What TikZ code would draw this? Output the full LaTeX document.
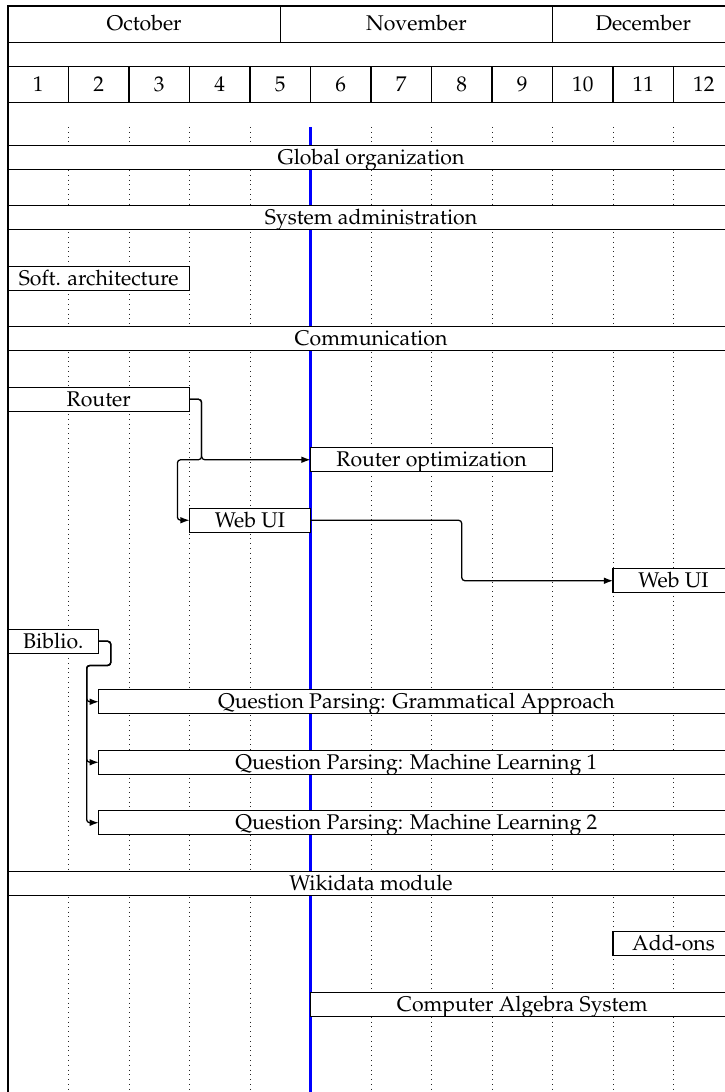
\documentclass[tikz,border=0pt]{standalone}
\usepackage[T1]{fontenc}
\usepackage{mathpazo}
\usetikzlibrary{arrows.meta}
\begin{document}
\begin{tikzpicture}[x=1cm,y=1cm,
  font=\fontsize{10}{12}\selectfont,
  frame/.style={line width=0.5pt, draw=black},
  hdr/.style={draw=black, line width=0.5pt, minimum height=0.6cm, inner sep=0pt, outer sep=0pt, anchor=north west, text height=7.6pt, text depth=1.6pt},
  task/.style={draw=black, fill=white, line width=0.5pt, minimum height=0.4cm, inner sep=0pt, outer sep=0pt, anchor=west, text height=8pt, text depth=1.4pt},
  conn/.style={line width=0.6pt, rounded corners=1.5pt, -{Latex[length=1.5mm,width=1.1mm]}},
  grid/.style={dash pattern=on 0.45pt off 1.8pt, line width=0.45pt, draw=black!85},
  today/.style={blue, line width=1.6pt}]
\useasboundingbox (-0.132,0.099) rectangle (11.85,-17.95);
% frame
\draw[frame] (0,0) -- (0,-19);
% months
\node[hdr, minimum width=4.5cm] (oct) at (0,0) {October};
\node[hdr, minimum width=4.5cm] (nov) at (4.5,0) {November};
\node[hdr, minimum width=3cm] (dec) at (9,0) {December};
% weeks
\foreach \i in {1,...,12} {
  \node[hdr, minimum width=1cm] (w\i) at (\i-1,-1) {\i};
}
% grid
\foreach \i in {1,...,11} { \draw[grid] (\i,-2) -- (\i,-19); }
\draw[today] (5,-2) -- (5,-19);
% tasks
\node[task, minimum width=12cm] (glob) at (0,-2.5) {Global organization};
\node[task, minimum width=12cm] (sysadm) at (0,-3.5) {System administration};
\node[task, minimum width=3cm] (soft) at (0,-4.5) {Soft. architecture};
\node[task, minimum width=12cm] (comm) at (0,-5.5) {Communication};
\node[task, minimum width=3cm] (router) at (0,-6.5) {Router};
\node[task, minimum width=4cm] (ropt) at (5,-7.5) {Router optimization};
\node[task, minimum width=2cm] (webui) at (3,-8.5) {Web UI};
\node[task, minimum width=2cm] (webuib) at (10,-9.5) {Web UI};
\node[task, minimum width=1.5cm] (biblio) at (0,-10.5) {Biblio.};
\node[task, minimum width=10.5cm] (qpa) at (1.5,-11.5) {Question Parsing: Grammatical Approach};
\node[task, minimum width=10.5cm] (qpb) at (1.5,-12.5) {Question Parsing: Machine Learning 1};
\node[task, minimum width=10.5cm] (qpc) at (1.5,-13.5) {Question Parsing: Machine Learning 2};
\node[task, minimum width=12cm] (wiki) at (0,-14.5) {Wikidata module};
\node[task, minimum width=2cm] (addons) at (10,-15.5) {Add-ons};
\node[task, minimum width=7cm] (cas) at (5,-16.5) {Computer Algebra System};
% connectors
\draw[conn] (router.east) -- ++(0.2,0) |- (ropt.west);
\draw[conn] (router.east) -- ++(0.2,0) -- ++(0,-1) -- ++(-0.4,0) |- (webui.west);
\draw[conn] (webui.east) -- ++(2.5,0) |- (webuib.west);
\draw[conn] (biblio.east) -- ++(0.2,0) -- ++(0,-0.4) -- ++(-0.4,0) |- (qpa.west);
\draw[conn] (biblio.east) -- ++(0.2,0) -- ++(0,-0.4) -- ++(-0.4,0) |- (qpb.west);
\draw[conn] (biblio.east) -- ++(0.2,0) -- ++(0,-0.4) -- ++(-0.4,0) |- (qpc.west);
\end{tikzpicture}
\end{document}
